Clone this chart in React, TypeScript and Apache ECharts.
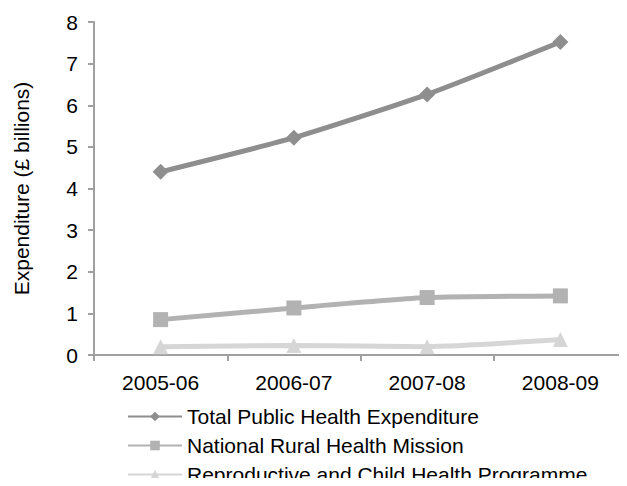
import React, { useEffect, useRef } from "react";
import * as echarts from "echarts";

const categories = ["2005-06", "2006-07", "2007-08", "2008-09"];
const totalPublic = [4.4, 5.22, 6.26, 7.52];
const nrhm = [0.85, 1.13, 1.38, 1.42];
const rchp = [0.2, 0.23, 0.2, 0.37];
const seriesNames = [
  "Total Public Health Expenditure",
  "National Rural Health Mission",
  "Reproductive and Child Health Programme",
];

export default function App() {
  const ref = useRef<HTMLDivElement>(null);
  useEffect(() => {
    const chart = echarts.init(ref.current!, undefined, { renderer: "svg" });
    const font = "Liberation Sans, Arial, sans-serif";
    const mk = (name: string, data: number[], color: string, symbol: string, size: number) => ({
      name,
      type: "line",
      data,
      smooth: 0.2,
      symbol,
      symbolSize: size,
      showSymbol: true,
      lineStyle: { color, width: 5 },
      itemStyle: { color },
      z: 3,
    });
    chart.setOption({
      animation: false,
      textStyle: { fontFamily: font },
      grid: { left: 94, top: 22, bottom: 131, right: -7 },
      legend: {
        orient: "vertical",
        left: 127,
        top: 406,
        padding: 0,
        itemWidth: 54,
        itemHeight: 12,
        itemGap: 8,
        textStyle: { fontSize: 21, lineHeight: 21, color: "#000", fontFamily: font },
        data: seriesNames,
      },
      xAxis: {
        type: "category",
        data: categories,
        axisLine: { lineStyle: { color: "#a0a0a0", width: 2 } },
        axisTick: { show: true, length: 6, lineStyle: { color: "#a0a0a0", width: 2 } },
        axisLabel: { fontSize: 21, color: "#000", margin: 17 },
      },
      yAxis: {
        type: "value",
        min: 0,
        max: 8,
        interval: 1,
        name: "Expenditure (£ billions)",
        nameLocation: "middle",
        nameGap: 62,
        nameTextStyle: { fontSize: 21, color: "#000" },
        axisLine: { show: true, lineStyle: { color: "#a0a0a0", width: 2 } },
        axisTick: { show: true, length: 6, lineStyle: { color: "#a0a0a0", width: 2 } },
        axisLabel: { fontSize: 21, color: "#000", margin: 16 },
        splitLine: { show: false },
      },
      series: [
        mk(seriesNames[0], totalPublic, "#8e8e8e", "diamond", 16),
        mk(seriesNames[1], nrhm, "#b2b2b2", "rect", 15),
        mk(seriesNames[2], rchp, "#d6d6d6", "triangle", 15),
      ],
    });
    return () => chart.dispose();
  }, []);
  return <div ref={ref} style={{ width: 627, height: 486, margin: -8 }} />;
}
